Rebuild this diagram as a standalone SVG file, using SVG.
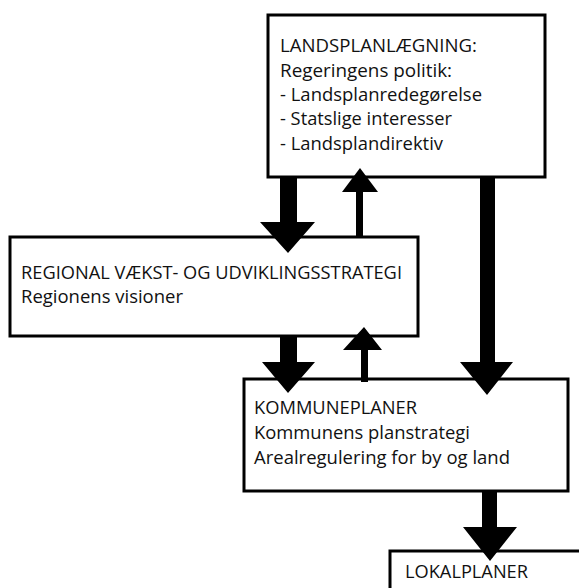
<svg xmlns="http://www.w3.org/2000/svg" width="579" height="588" viewBox="0 0 579 588">
<style>
.box{fill:#fff;stroke:#000;stroke-width:3}
.t{font-family:"Open Sans","Liberation Sans",Arial,sans-serif;font-size:18.5px;fill:#111}
.arrow{fill:#000}
</style>
<rect width="579" height="588" fill="#fff"/>
<g id="landsplan">
<rect class="box" x="268" y="15" width="277" height="162"/>
<text class="t" x="280" y="52" textLength="197" lengthAdjust="spacingAndGlyphs">LANDSPLANLÆGNING:</text>
<text class="t" x="280" y="77" textLength="172" lengthAdjust="spacingAndGlyphs">Regeringens politik:</text>
<text class="t" x="280" y="101" textLength="202" lengthAdjust="spacingAndGlyphs">- Landsplanredegørelse</text>
<text class="t" x="280" y="125" textLength="172" lengthAdjust="spacingAndGlyphs">- Statslige interesser</text>
<text class="t" x="280" y="150" textLength="163" lengthAdjust="spacingAndGlyphs">- Landsplandirektiv</text>
</g>
<g id="regional">
<rect class="box" x="10" y="237" width="408" height="99"/>
<text class="t" x="21" y="279" textLength="381" lengthAdjust="spacingAndGlyphs">REGIONAL VÆKST- OG UDVIKLINGSSTRATEGI</text>
<text class="t" x="21" y="303" textLength="162" lengthAdjust="spacingAndGlyphs">Regionens visioner</text>
</g>
<g id="kommune">
<rect class="box" x="244" y="379" width="324" height="112"/>
<text class="t" x="254" y="414" textLength="163" lengthAdjust="spacingAndGlyphs">KOMMUNEPLANER</text>
<text class="t" x="254" y="439" textLength="216" lengthAdjust="spacingAndGlyphs">Kommunens planstrategi</text>
<text class="t" x="254" y="464" textLength="256" lengthAdjust="spacingAndGlyphs">Arealregulering for by og land</text>
</g>
<g id="lokal">
<rect class="box" x="390" y="551" width="200" height="60"/>
<text class="t" x="405" y="578" textLength="123" lengthAdjust="spacingAndGlyphs">LOKALPLANER</text>
</g>
<g id="connectors">
<polygon class="arrow" points="280,177 297,177 297,222 315,222 288,253 260,222 280,222"/>
<polygon class="arrow" points="356,237 363,237 363,192 378,192 360,168 342,192 356,192"/>
<polygon class="arrow" points="480,177 495,177 495,362 513,362 487,395 460,362 480,362"/>
<polygon class="arrow" points="280,336 297,336 297,362 315,362 288,393 262,362 280,362"/>
<polygon class="arrow" points="361,382 368,382 368,350 382,350 364,327 343,350 361,350"/>
<polygon class="arrow" points="482,491 497,491 497,527 517,527 490,561 463,527 482,527"/>
</g>
</svg>
